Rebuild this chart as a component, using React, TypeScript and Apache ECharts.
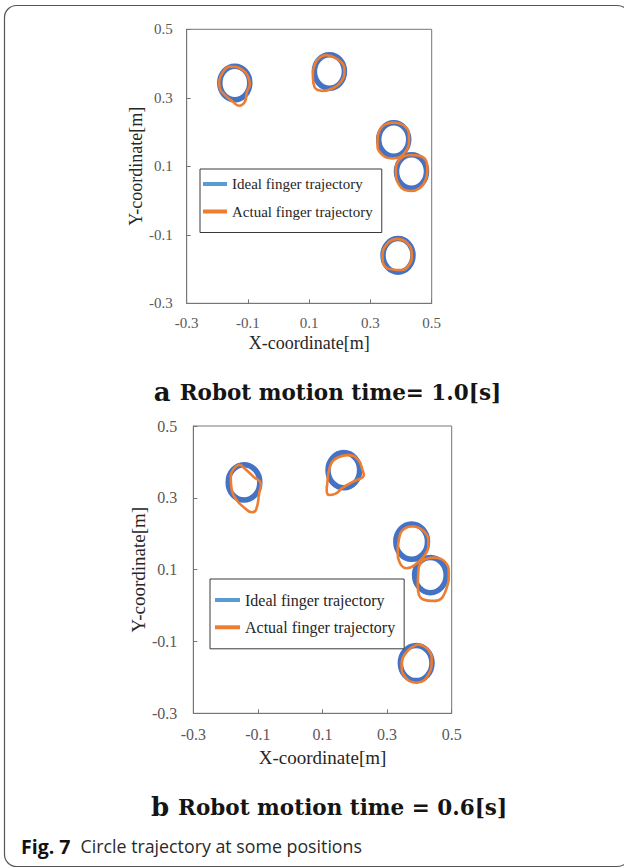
import React, { useEffect, useRef } from "react";
import * as echarts from "echarts";

// ---- data ----
const AXIS_TICKS = [-0.3, -0.1, 0.1, 0.3, 0.5];
const IDEAL_NAME = "Ideal finger trajectory";
const ACTUAL_NAME = "Actual finger trajectory";

// ideal circles: [centerX, centerY, radius]
const IDEAL_CIRCLES = [
  [-0.143, 0.343, 0.049],
  [0.166, 0.377, 0.049],
  [0.376, 0.178, 0.049],
  [0.434, 0.085, 0.049],
  [0.39, -0.16, 0.049],
];

// (a) robot motion time = 1.0 s
const ACTUAL_A1 = [[-0.194, 0.347], [-0.181, 0.376], [-0.154, 0.391], [-0.121, 0.384], [-0.1, 0.362], [-0.094, 0.339], [-0.103, 0.318], [-0.11, 0.289], [-0.129, 0.277], [-0.15, 0.289], [-0.175, 0.308], [-0.192, 0.328], [-0.194, 0.347]];
const ACTUAL_A2 = [[0.155, 0.425], [0.204, 0.405], [0.215, 0.376], [0.204, 0.347], [0.177, 0.328], [0.144, 0.32], [0.117, 0.332], [0.112, 0.362], [0.12, 0.401], [0.134, 0.417], [0.155, 0.425]];
const ACTUAL_A3 = [[0.372, 0.228], [0.413, 0.216], [0.426, 0.182], [0.413, 0.141], [0.372, 0.123], [0.334, 0.138], [0.323, 0.168], [0.334, 0.211], [0.372, 0.228]];
const ACTUAL_A4 = [[0.432, 0.133], [0.469, 0.128], [0.486, 0.094], [0.48, 0.06], [0.432, 0.028], [0.394, 0.045], [0.383, 0.089], [0.399, 0.123], [0.432, 0.133]];
const ACTUAL_A5 = [[0.388, -0.112], [0.421, -0.125], [0.435, -0.159], [0.426, -0.188], [0.399, -0.203], [0.356, -0.198], [0.339, -0.164], [0.356, -0.125], [0.388, -0.112]];

// (b) robot motion time = 0.6 s
const ACTUAL_B1 = [[-0.155, 0.393], [-0.135, 0.377], [-0.114, 0.359], [-0.091, 0.338], [-0.096, 0.313], [-0.106, 0.266], [-0.119, 0.26], [-0.14, 0.271], [-0.166, 0.294], [-0.181, 0.322], [-0.184, 0.354], [-0.174, 0.382], [-0.155, 0.393]];
const ACTUAL_B2 = [[0.115, 0.34], [0.123, 0.387], [0.149, 0.413], [0.18, 0.419], [0.211, 0.405], [0.224, 0.377], [0.228, 0.364], [0.195, 0.345], [0.164, 0.329], [0.139, 0.311], [0.121, 0.308], [0.113, 0.322], [0.115, 0.34]];
const ACTUAL_B3 = [[0.381, 0.221], [0.415, 0.206], [0.428, 0.173], [0.417, 0.141], [0.392, 0.118], [0.361, 0.104], [0.34, 0.118], [0.333, 0.15], [0.337, 0.187], [0.355, 0.215], [0.381, 0.221]];
const ACTUAL_B4 = [[0.448, 0.134], [0.479, 0.122], [0.491, 0.09], [0.484, 0.048], [0.448, 0.013], [0.412, 0.017], [0.395, 0.052], [0.397, 0.099], [0.417, 0.129], [0.448, 0.134]];
const ACTUAL_B5 = [[0.397, -0.108], [0.428, -0.124], [0.438, -0.152], [0.43, -0.189], [0.392, -0.215], [0.355, -0.198], [0.345, -0.166], [0.361, -0.129], [0.397, -0.108]];

const ACTUAL_A = [ACTUAL_A1, ACTUAL_A2, ACTUAL_A3, ACTUAL_A4, ACTUAL_A5];
const ACTUAL_B = [ACTUAL_B1, ACTUAL_B2, ACTUAL_B3, ACTUAL_B4, ACTUAL_B5];

const TITLE_A_LABEL = "a";
const TITLE_A_TEXT = "Robot motion time= 1.0[s]";
const TITLE_B_LABEL = "b";
const TITLE_B_TEXT = "Robot motion time = 0.6[s]";
const CAPTION_LABEL = "Fig. 7";
const CAPTION_TEXT = "Circle trajectory at some positions";

// ---- styles ----
const BLUE = "#4472C4";
const BLUE_LEGEND = "#5B9BD5";
const ORANGE = "#ED7D31";
const AXIS_COLOR = "#767676";
const SERIF = "'Liberation Serif', 'Times New Roman', serif";

function makeAxes(gridIndex: number, labelSize: number, nameSize: number, xLabelMargin: number, yLabelMargin: number, xNameGap: number, yNameGap: number) {
  const common = {
    type: "value" as const,
    gridIndex,
    min: -0.3,
    max: 0.5,
    splitLine: { show: false },
    axisLine: { show: true, onZero: false, lineStyle: { color: AXIS_COLOR, width: 1 } },
    axisTick: { show: true, inside: true, length: 4, customValues: AXIS_TICKS, lineStyle: { color: AXIS_COLOR } },
    nameLocation: "middle" as const,
    nameTextStyle: { fontFamily: SERIF, fontSize: nameSize, color: "#262626" },
  };
  const x = {
    ...common,
    name: "X-coordinate[m]",
    nameGap: xNameGap,
    axisLabel: {
      customValues: AXIS_TICKS,
      margin: xLabelMargin,
      fontFamily: SERIF,
      fontSize: labelSize,
      color: "#595959",
      formatter: (v: number) => v.toFixed(1),
    },
  };
  const y = {
    ...common,
    name: "Y-coordinate[m]",
    nameGap: yNameGap,
    nameRotate: 90,
    axisLabel: {
      customValues: AXIS_TICKS,
      margin: yLabelMargin,
      fontFamily: SERIF,
      fontSize: labelSize,
      color: "#595959",
      formatter: (v: number) => v.toFixed(1),
    },
  };
  return { x, y };
}

function idealSeries(axisIndex: number) {
  return {
    type: "custom",
    name: IDEAL_NAME,
    xAxisIndex: axisIndex,
    yAxisIndex: axisIndex,
    itemStyle: { color: BLUE_LEGEND },
    data: IDEAL_CIRCLES,
    z: 2,
    renderItem: (_params: any, api: any) => {
      const c = api.coord([api.value(0), api.value(1)]);
      const s = api.size([api.value(2), api.value(2)]);
      return {
        type: "ellipse",
        shape: { cx: c[0], cy: c[1], rx: s[0], ry: s[1] },
        style: { fill: "none", stroke: BLUE, lineWidth: 5.5 },
      };
    },
  };
}

function actualSeries(axisIndex: number, curves: number[][][]) {
  return curves.map((pts) => ({
    type: "line",
    name: ACTUAL_NAME,
    xAxisIndex: axisIndex,
    yAxisIndex: axisIndex,
    data: pts,
    smooth: 0.5,
    showSymbol: false,
    symbol: "none",
    z: 3,
    itemStyle: { color: ORANGE },
    lineStyle: { color: ORANGE, width: 2.6 },
  }));
}

function legend(left: number, top: number, fontSize: number, padding: number[], itemGap: number, itemWidth: number) {
  return {
    orient: "vertical",
    left,
    top,
    padding,
    itemGap,
    itemWidth,
    itemHeight: 4,
    borderColor: "#3a3a3a",
    borderWidth: 1,
    backgroundColor: "#ffffff",
    selectedMode: false,
    textStyle: { fontFamily: SERIF, fontSize, lineHeight: fontSize, color: "#262626" },
    data: [
      { name: IDEAL_NAME, icon: "rect", itemStyle: { color: BLUE_LEGEND } },
      { name: ACTUAL_NAME, icon: "rect", itemStyle: { color: ORANGE } },
    ],
  };
}

const TITLE_RICH = {
  l: { fontFamily: "'DejaVu Serif', serif", fontWeight: "bold", fontSize: 26, fill: "#151515" },
  t: { fontFamily: "'DejaVu Serif', serif", fontWeight: "bold", fontSize: 21.5, fill: "#151515" },
};

export default function App() {
  const ref = useRef<HTMLDivElement>(null);
  useEffect(() => {
    if (!ref.current) return;
    document.body.style.margin = "0";
    const chart = echarts.init(ref.current, undefined, { renderer: "svg" });
    const axA = makeAxes(0, 15, 18, 12, 14, 31, 38);
    const axB = makeAxes(1, 16, 19, 13, 16, 35, 42);
    const option: any = {
      animation: false,
      backgroundColor: "#ffffff",
      grid: [
        { left: 186.7, top: 29.3, width: 245, height: 274, show: true, borderColor: AXIS_COLOR, borderWidth: 1, backgroundColor: "transparent" },
        { left: 193.3, top: 426, width: 258.4, height: 287.3, show: true, borderColor: AXIS_COLOR, borderWidth: 1, backgroundColor: "transparent" },
      ],
      xAxis: [axA.x, axB.x],
      yAxis: [axA.y, axB.y],
      legend: [
        legend(200, 169, 15, [7.5, 9, 13.5, 3], 12.5, 24),
        legend(210, 579, 16, [13, 9, 13.5, 5], 11.3, 25),
      ],
      series: [
        idealSeries(0),
        ...actualSeries(0, ACTUAL_A),
        idealSeries(1),
        ...actualSeries(1, ACTUAL_B),
      ],
      graphic: [
        {
          type: "rect",
          shape: { x: 4.5, y: 5.5, width: 625, height: 861, r: 12 },
          style: { fill: "none", stroke: "#555555", lineWidth: 1.2 },
          silent: true,
          z: 0,
        },
        {
          type: "text",
          x: 327.5,
          y: 392,
          style: {
            text: `{l|${TITLE_A_LABEL} }{t|${TITLE_A_TEXT}}`,
            align: "center",
            verticalAlign: "middle",
            rich: TITLE_RICH,
          },
        },
        {
          type: "text",
          x: 329,
          y: 807,
          style: {
            text: `{l|${TITLE_B_LABEL} }{t|${TITLE_B_TEXT}}`,
            align: "center",
            verticalAlign: "middle",
            rich: TITLE_RICH,
          },
        },
        {
          type: "text",
          x: 21,
          y: 846,
          style: {
            text: `{l|${CAPTION_LABEL}  }{t|${CAPTION_TEXT}}`,
            align: "left",
            verticalAlign: "middle",
            rich: {
              l: { fontFamily: "'Open Sans', sans-serif", fontWeight: "bold", fontSize: 19.5, fill: "#111" },
              t: { fontFamily: "'Open Sans', sans-serif", fontSize: 17.8, fill: "#2a2a2a" },
            },
          },
        },
      ],
    };
    chart.setOption(option);
    return () => chart.dispose();
  }, []);
  return <div ref={ref} style={{ position: "absolute", left: 0, top: 0, width: 624, height: 868 }} />;
}
